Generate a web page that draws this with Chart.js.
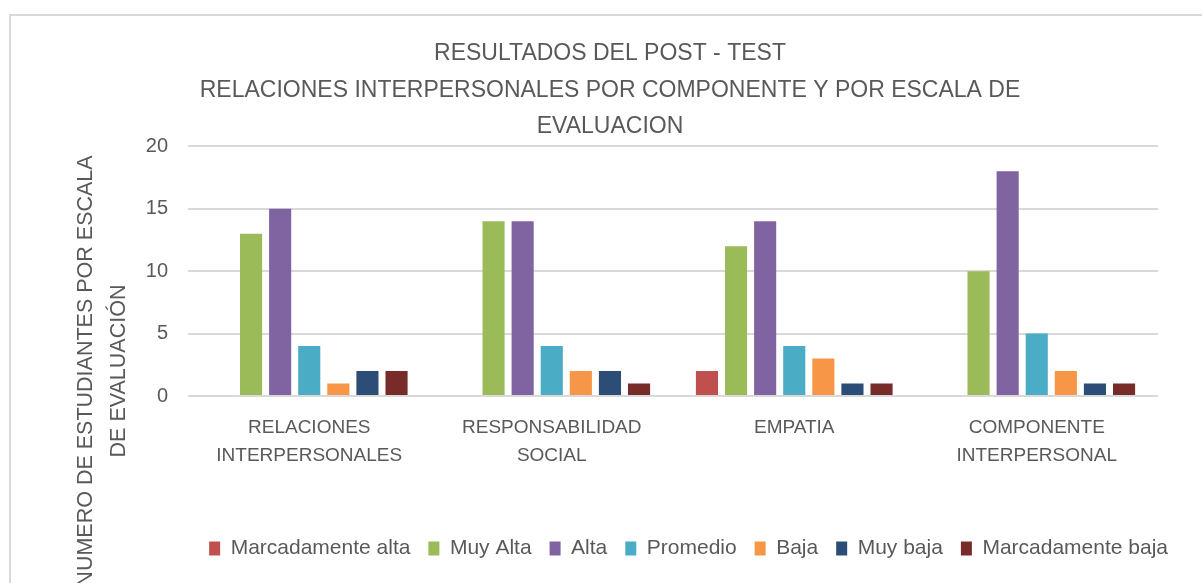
<!DOCTYPE html>
<html>
<head>
<meta charset="utf-8">
<script src="https://cdn.jsdelivr.net/npm/chart.js@4"></script>
<style>
  html, body { margin: 0; padding: 0; background: #fff; }
  body { width: 1202px; height: 583px; overflow: hidden; position: relative; }
  #wrap {
    position: absolute; left: 9px; top: 14px;
    width: 1191px; height: 567px;
    border-left: 2px solid #d9d9d9; border-top: 2px solid #d9d9d9;
  }
</style>
</head>
<body>
<div id="wrap"><canvas id="chart"></canvas></div>
<script>
// categories and series
const categories = [
  ['RELACIONES', 'INTERPERSONALES'],
  ['RESPONSABILIDAD', 'SOCIAL'],
  ['EMPATIA'],
  ['COMPONENTE', 'INTERPERSONAL']
];
const seriesNames = ['Marcadamente alta', 'Muy Alta', 'Alta', 'Promedio', 'Baja', 'Muy baja', 'Marcadamente baja'];
const marcadamenteAlta = [0, 0, 2, 0];
const muyAlta = [13, 14, 12, 10];
const alta = [15, 14, 14, 18];
const promedio = [4, 4, 4, 5];
const baja = [1, 2, 3, 2];
const muyBaja = [2, 2, 1, 1];
const marcadamenteBaja = [2, 1, 1, 1];
const yTicks = [0, 5, 10, 15, 20];

const titleLines = [
  'RESULTADOS DEL POST - TEST',
  'RELACIONES INTERPERSONALES POR COMPONENTE Y POR ESCALA DE',
  'EVALUACION'
];
const yTitleLines = ['NUMERO DE ESTUDIANTES POR ESCALA', 'DE EVALUACIÓN'];

const colors = ['#C0504D', '#9BBB59', '#8064A2', '#4BACC6', '#F79646', '#2C4D75', '#772C2A'];
const values = [marcadamenteAlta, muyAlta, alta, promedio, baja, muyBaja, marcadamenteBaja];

const FONT = "'Liberation Sans', Arial, sans-serif";
const TEXT = '#595959';

// rotated two-line y axis title, placed like the original
const yTitlePlugin = {
  id: 'yTitle',
  afterDraw(chart) {
    const ctx = chart.ctx;
    ctx.save();
    ctx.fillStyle = TEXT;
    ctx.font = '21.5px ' + FONT;
    ctx.textAlign = 'center';
    ctx.textBaseline = 'middle';
    ctx.translate(75, 355);
    ctx.rotate(-Math.PI / 2);
    yTitleLines.forEach((line, i) => ctx.fillText(line, 0, i * 33));
    ctx.restore();
  }
};

document.addEventListener('DOMContentLoaded', () => {
  const ctx = document.getElementById('chart').getContext('2d');

  const data = {
    labels: categories,
    datasets: seriesNames.map((name, i) => ({
      label: name,
      data: values[i],
      backgroundColor: colors[i],
      borderWidth: 0,
      barPercentage: 0.76,
      categoryPercentage: 0.84
    }))
  };

  new Chart(ctx, {
    type: 'bar',
    data: data,
    plugins: [yTitlePlugin],
    options: {
      responsive: true,
      maintainAspectRatio: false,
      animation: false,
      layout: { padding: { top: 0, right: 16, bottom: 14, left: 23 } },
      scales: {
        x: {
          grid: { display: false, drawTicks: false },
          border: { display: false },
          ticks: {
            color: TEXT,
            padding: 18,
            maxRotation: 0,
            autoSkip: false,
            font: { family: FONT, size: 19, lineHeight: 1.47 }
          },
          afterFit: scale => { scale.height = 124; }
        },
        y: {
          min: 0,
          max: 20,
          afterBuildTicks: scale => { scale.ticks = yTicks.map(v => ({ value: v })); },
          grid: { color: '#d9d9d9', lineWidth: 2, drawTicks: false },
          border: { display: false },
          ticks: {
            color: TEXT,
            padding: 20,
            font: { family: FONT, size: 20 }
          },
          afterFit: scale => { scale.width = 154; }
        },
        // empty right-hand spacer so the plot ends where the original does
        y2: {
          type: 'linear',
          position: 'right',
          grid: { display: false, drawTicks: false },
          border: { display: false },
          ticks: { display: false },
          afterFit: scale => { scale.width = 28; }
        }
      },
      plugins: {
        title: {
          display: true,
          text: titleLines,
          color: TEXT,
          padding: { top: 20, bottom: 2 },
          font: { family: FONT, size: 23, weight: 'normal', lineHeight: 1.57 }
        },
        legend: {
          position: 'bottom',
          align: 'end',
          labels: {
            color: TEXT,
            boxWidth: 11,
            boxHeight: 14,
            padding: 18,
            font: { family: FONT, size: 21 }
          }
        },
        tooltip: { enabled: false }
      }
    }
  });
});
</script>
</body>
</html>
